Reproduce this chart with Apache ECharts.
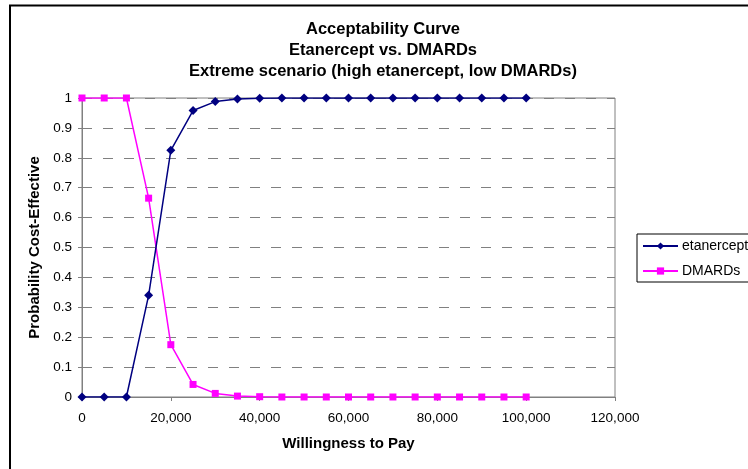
<!DOCTYPE html>
<html><head><meta charset="utf-8">
<script src="https://cdn.jsdelivr.net/npm/echarts@6/dist/echarts.min.js"></script>
<style>html,body{margin:0;padding:0;background:#fff}#c{width:748px;height:469px}</style>
</head><body><div id="c"></div>
<script>
const wtp = [0,5000,10000,15000,20000,25000,30000,35000,40000,45000,50000,55000,60000,65000,70000,75000,80000,85000,90000,95000,100000];
const etanercept = [0,0,0,0.34,0.825,0.958,0.988,0.997,0.999,1,1,1,1,1,1,1,1,1,1,1,1];
const dmards = [1,1,1,0.665,0.175,0.042,0.012,0.003,0.001,0,0,0,0,0,0,0,0,0,0,0,0];
const titleLines = ['Acceptability Curve','Etanercept vs. DMARDs','Extreme scenario (high etanercept, low DMARDs)'];
const seriesNames = ['etanercept','DMARDs'];

const chart = echarts.init(document.getElementById('c'));
const font = 'Arial, "Liberation Sans", sans-serif';
chart.setOption({
  animation:false,
  backgroundColor:'#fff',
  textStyle:{fontFamily:font},
  title:{text:titleLines.join('\n'),left:378,top:14,textAlign:'center',
    textStyle:{fontSize:16.5,fontWeight:'bold',color:'#000',lineHeight:21,fontFamily:font}},
  graphic:[
    {type:'line',shape:{x1:9,y1:5.5,x2:748,y2:5.5},style:{stroke:'#000',lineWidth:2}},
    {type:'line',shape:{x1:10,y1:5,x2:10,y2:469},style:{stroke:'#000',lineWidth:2}}
  ],
  legend:{left:637,top:234,orient:'vertical',itemWidth:35,itemHeight:9,itemGap:9,
    padding:[4,8,3,5],borderColor:'#000',borderWidth:1,backgroundColor:'#fff',
    textStyle:{fontSize:14,color:'#000',fontFamily:font,lineHeight:16,padding:[0,0,0,-1]},data:seriesNames},
  grid:{left:82,right:133,top:98,bottom:72,show:true,borderColor:'#808080',borderWidth:1},
  xAxis:{type:'value',min:0,max:120000,interval:20000,
    name:'Willingness to Pay',nameLocation:'middle',nameGap:39,
    nameTextStyle:{fontSize:15,fontWeight:'bold',color:'#000',fontFamily:font},
    axisLine:{lineStyle:{color:'#808080'}},axisTick:{show:true,length:4,lineStyle:{color:'#808080'}},
    splitLine:{show:false},
    axisLabel:{fontSize:13.5,color:'#000',margin:14,formatter:v=>v.toLocaleString('en-US')}},
  yAxis:{type:'value',min:0,max:1,interval:0.1,
    name:'Probability Cost-Effective',nameLocation:'middle',nameGap:37,nameRotate:90,
    nameTextStyle:{fontSize:15,fontWeight:'bold',color:'#000',fontFamily:font},
    axisLine:{show:true,lineStyle:{color:'#808080'}},axisTick:{show:true,length:4,lineStyle:{color:'#808080'}},
    splitLine:{show:true,lineStyle:{color:'#808080',type:[10,11],width:1}},
    axisLabel:{fontSize:13.5,color:'#000',margin:10,formatter:v=>String(+v.toFixed(1))}},
  series:[
    {name:seriesNames[0],type:'line',data:wtp.map((x,i)=>[x,etanercept[i]]),
     symbol:'diamond',symbolSize:9,color:'#000080',lineStyle:{width:1.5,color:'#000080'},itemStyle:{color:'#000080'},z:3},
    {name:seriesNames[1],type:'line',data:wtp.map((x,i)=>[x,dmards[i]]),
     symbol:'rect',symbolSize:7,color:'#FF00FF',lineStyle:{width:1.5,color:'#FF00FF'},itemStyle:{color:'#FF00FF'},z:2}
  ]
});
</script></body></html>
